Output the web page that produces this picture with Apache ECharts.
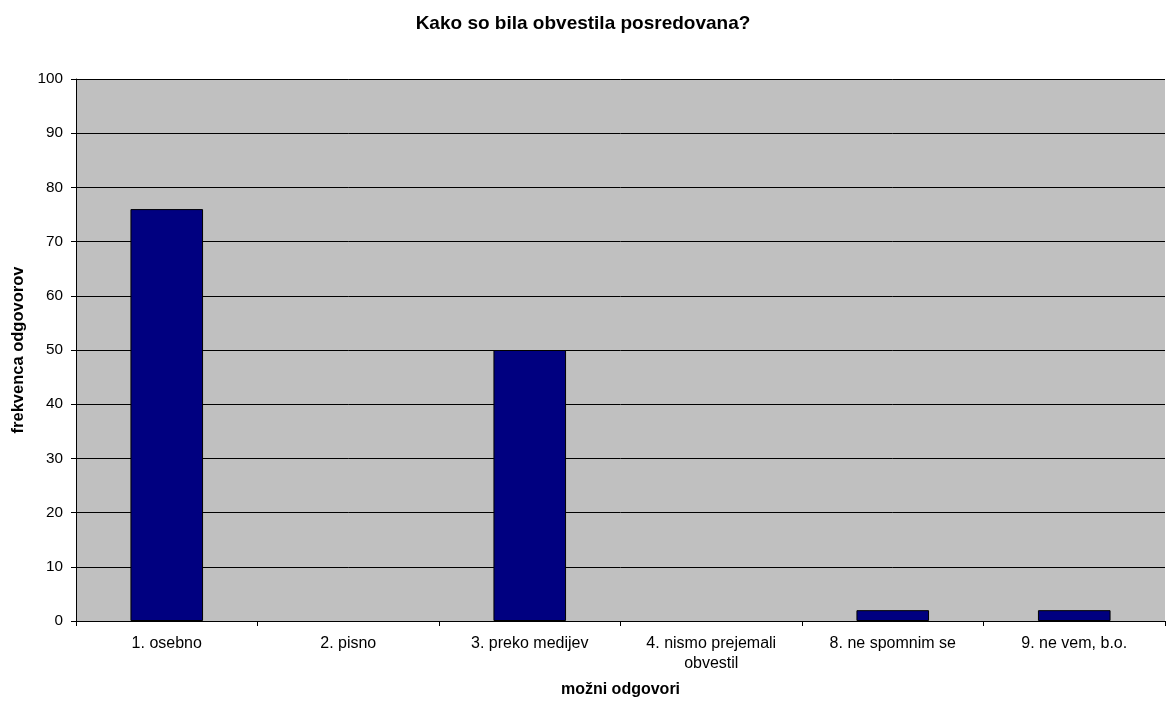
<!DOCTYPE html>
<html>
<head>
<meta charset="utf-8">
<script src="https://cdn.jsdelivr.net/npm/echarts@6/dist/echarts.min.js"></script>
<style>html,body{margin:0;padding:0;background:#fff;}#c{width:1166px;height:704px;}</style>
</head>
<body>
<div id="c"></div>
<script>
const categories = ['1. osebno', '2. pisno', '3. preko medijev', '4. nismo prejemali\nobvestil', '8. ne spomnim se', '9. ne vem, b.o.'];
const values = [76, 0, 50, 0, 2, 2];
const titleText = 'Kako so bila obvestila posredovana?';
const xName = 'možni odgovori';
const yName = 'frekvenca odgovorov';

const chart = echarts.init(document.getElementById('c'));
const font = '"Liberation Sans", Arial, sans-serif';
chart.setOption({
  animation: false,
  backgroundColor: '#ffffff',
  title: {
    text: titleText, left: 'center', top: 9,
    textStyle: { fontFamily: font, fontSize: 19, fontWeight: 'bold', color: '#000' }
  },
  grid: { left: 76, right: 1, top: 79, bottom: 83, show: true, backgroundColor: '#C0C0C0', borderWidth: 0 },
  xAxis: {
    type: 'category', data: categories,
    name: xName, nameLocation: 'middle', nameGap: 61,
    nameTextStyle: { fontFamily: font, fontSize: 16, fontWeight: 'bold', color: '#000' },
    axisLine: { lineStyle: { color: '#000', width: 1 } },
    axisTick: { show: true, alignWithLabel: false, length: 5, lineStyle: { color: '#000' } },
    axisLabel: { fontFamily: font, fontSize: 16, color: '#000', margin: 13, interval: 0, lineHeight: 20 }
  },
  yAxis: {
    type: 'value', min: 0, max: 100, interval: 10,
    name: yName, nameLocation: 'middle', nameGap: 49, nameRotate: 90,
    nameTextStyle: { fontFamily: font, fontSize: 16.5, fontWeight: 'bold', color: '#000' },
    axisLine: { show: true, lineStyle: { color: '#000', width: 1 } },
    axisTick: { show: true, length: 5, lineStyle: { color: '#000' } },
    axisLabel: { fontFamily: font, fontSize: 15.3, color: '#000', margin: 13 },
    splitLine: { show: true, lineStyle: { color: '#000', width: 1 } }
  },
  series: [{
    type: 'bar', barWidth: '40%',
    data: values.map(v => v === 0 ? { value: v, itemStyle: { borderWidth: 0 } } : v),
    itemStyle: { color: '#000080', borderColor: '#000', borderWidth: 1 }
  }]
});
</script>
</body>
</html>
